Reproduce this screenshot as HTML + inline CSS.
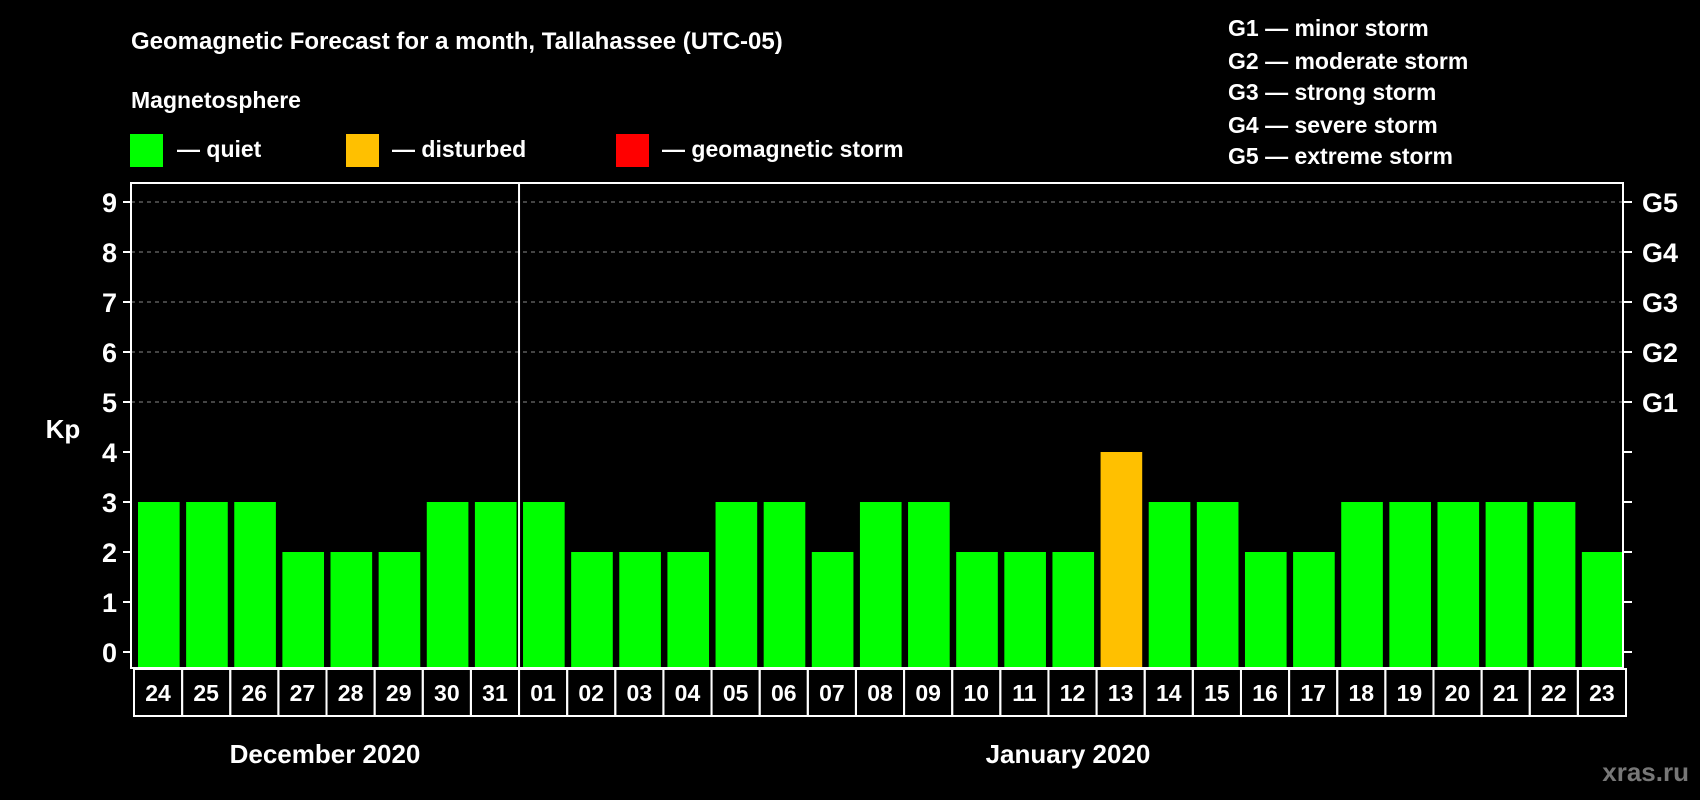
<!DOCTYPE html>
<html><head><meta charset="utf-8"><style>
html,body{margin:0;padding:0;background:#000;}
svg{display:block;font-family:"Liberation Sans",Arial,sans-serif;font-weight:bold;}
</style></head><body>
<svg id="chart" width="1700" height="800" viewBox="0 0 1700 800">
<rect width="1700" height="800" fill="#000"/>
<text x="131" y="49" font-size="24" fill="#fff">Geomagnetic Forecast for a month, Tallahassee (UTC-05)</text>
<text x="131" y="108" font-size="23" fill="#fff">Magnetosphere</text>
<g><rect x="130" y="134" width="33" height="33" fill="#00ff00"/><text x="177" y="157" font-size="23" fill="#fff">— quiet</text></g>
<g><rect x="346" y="134" width="33" height="33" fill="#ffc000"/><text x="392" y="157" font-size="23" fill="#fff">— disturbed</text></g>
<g><rect x="616" y="134" width="33" height="33" fill="#ff0000"/><text x="662" y="157" font-size="23" fill="#fff">— geomagnetic storm</text></g>
<g font-size="23" fill="#fff">
<text x="1228" y="36">G1 — minor storm</text>
<text x="1228" y="69">G2 — moderate storm</text>
<text x="1228" y="100">G3 — strong storm</text>
<text x="1228" y="133">G4 — severe storm</text>
<text x="1228" y="164">G5 — extreme storm</text>
</g>
<text x="63" y="438" font-size="26" fill="#fff" text-anchor="middle">Kp</text>
<g id="grid"></g><g id="bars"></g><g id="axes"></g><g id="dates"></g>
<text x="325" y="763" font-size="26" fill="#fff" text-anchor="middle">December 2020</text>
<text x="1068" y="763" font-size="26" fill="#fff" text-anchor="middle">January 2020</text>
<text x="1689" y="781" font-size="26" fill="#777" text-anchor="end">xras.ru</text>
</svg>
<script>
const days = ["24","25","26","27","28","29","30","31","01","02","03","04","05","06","07","08","09","10","11","12","13","14","15","16","17","18","19","20","21","22","23"];
const kpValues = [3,3,3,2,2,2,3,3,3,2,2,2,3,3,2,3,3,2,2,2,4,3,3,2,2,3,3,3,3,3,2];
const yTicks = [0,1,2,3,4,5,6,7,8,9];
const gLabels = ["","","","","","G1","G2","G3","G4","G5"];

const NS="http://www.w3.org/2000/svg";
const L=131,R=1623,T=183,B=668;
const y0=652,step=50;
const pitch=(R-L)/days.length;
function yScale(v){return y0-v*step;}
function xScale(i){return L+i*pitch;}
function mk(tag,attrs,parent){const e=document.createElementNS(NS,tag);for(const k in attrs)e.setAttribute(k,attrs[k]);parent.appendChild(e);return e;}
const grid=document.getElementById('grid'),bars=document.getElementById('bars'),axes=document.getElementById('axes'),dates=document.getElementById('dates');

yTicks.forEach((t,i)=>{
  const y=yScale(t);
  if(t>=5){const g=mk('line',{x1:L,x2:R,y1:y,y2:y,stroke:'#888','stroke-dasharray':'4,4','stroke-width':1},grid);
    
    }
  const tl=mk('line',{x1:L-8,x2:L,y1:y,y2:y,stroke:'#fff','stroke-width':2},axes);
  
  
  const tr=mk('line',{x1:R,x2:R+9,y1:y,y2:y,stroke:'#fff','stroke-width':2},axes);
  
  
  const lb=mk('text',{x:L-14,y:y+10,'font-size':27,fill:'#fff','text-anchor':'end'},axes);
  lb.textContent=t;
  
  
  if(gLabels[i]){const gl=mk('text',{x:R+19,y:y+10,'font-size':27,fill:'#fff'},axes);
    gl.textContent=gLabels[i];
    
    }
});

kpValues.forEach((v,i)=>{
  const x=xScale(i)+7;
  const col=v>=5?'#ff0000':(v>=4?'#ffc000':'#00ff00');
  const b=mk('rect',{x:x,y:yScale(v),width:pitch-6.5,height:B-yScale(v),fill:col},bars);
  
  
  const bx=mk('rect',{x:xScale(i)+3,y:669,width:pitch,height:47,fill:'none',stroke:'#fff','stroke-width':2},dates);
  
  
  const dl=mk('text',{x:xScale(i)+3+pitch/2,y:701,'font-size':23,fill:'#fff','text-anchor':'middle'},dates);
  dl.textContent=days[i];
  
  
});

const frame=mk('rect',{x:L,y:T,width:R-L,height:B-T,fill:'none',stroke:'#fff','stroke-width':2},axes);


const dv=xScale(days.indexOf("01"))+3;
const div=mk('line',{x1:dv,x2:dv,y1:T,y2:B,stroke:'#fff','stroke-width':2},axes);


</script>
</body></html>
